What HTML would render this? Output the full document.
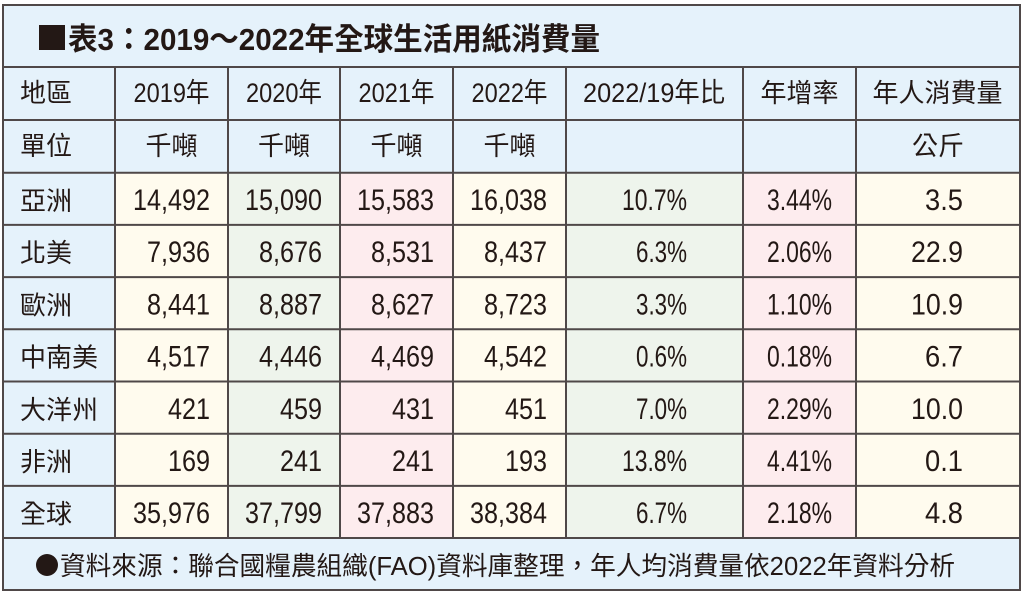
<!DOCTYPE html>
<html>
<head>
<meta charset="utf-8">
<style>
html,body{margin:0;padding:0;background:#fff;width:1024px;height:595px;overflow:hidden;}
svg{display:block;}
text{font-family:"Liberation Sans","Noto Sans CJK TC","Noto Sans CJK JP",sans-serif;fill:#231815;}
.cjk{font-family:"Noto Sans CJK TC","Noto Sans CJK JP",sans-serif;}
.c{font-size:26px;}
.h{font-size:27px;}
.n{font-size:30px;}
.t{font-size:31px;font-weight:bold;}
</style>
</head>
<body>
<svg width="1024" height="595" viewBox="0 0 1024 595" xmlns="http://www.w3.org/2000/svg">
<!-- backgrounds -->
<rect x="3" y="5" width="1017" height="585" fill="#e5f2fb"/>
<rect x="115" y="172.7" width="113" height="365.3" fill="#fffbee"/>
<rect x="228" y="172.7" width="112" height="365.3" fill="#eef4ec"/>
<rect x="340" y="172.7" width="113" height="365.3" fill="#fdecee"/>
<rect x="453" y="172.7" width="113" height="365.3" fill="#fffbee"/>
<rect x="566" y="172.7" width="177" height="365.3" fill="#eef4ec"/>
<rect x="743" y="172.7" width="113" height="365.3" fill="#fdecee"/>
<rect x="856" y="172.7" width="164" height="365.3" fill="#fffbee"/>

<!-- grid lines -->
<g stroke="#4f4848" stroke-width="2" fill="none">
<line x1="3" y1="67" x2="1020" y2="67"/>
<line x1="3" y1="120" x2="1020" y2="120"/>
<line x1="3" y1="172.7" x2="1020" y2="172.7"/>
<line x1="3" y1="224.9" x2="1020" y2="224.9"/>
<line x1="3" y1="277.1" x2="1020" y2="277.1"/>
<line x1="3" y1="329.3" x2="1020" y2="329.3"/>
<line x1="3" y1="381.5" x2="1020" y2="381.5"/>
<line x1="3" y1="433.7" x2="1020" y2="433.7"/>
<line x1="3" y1="485.9" x2="1020" y2="485.9"/>
<line x1="3" y1="538" x2="1020" y2="538"/>
<line x1="115" y1="67" x2="115" y2="538"/>
<line x1="228" y1="67" x2="228" y2="538"/>
<line x1="340" y1="67" x2="340" y2="538"/>
<line x1="453" y1="67" x2="453" y2="538"/>
<line x1="566" y1="67" x2="566" y2="538"/>
<line x1="743" y1="67" x2="743" y2="538"/>
<line x1="856" y1="67" x2="856" y2="538"/>
<rect x="3" y="5" width="1017" height="585"/>
</g>

<!-- title -->
<rect x="39" y="25" width="26" height="25" fill="#231815"/>
<text class="t" x="68" y="50" textLength="532" lengthAdjust="spacingAndGlyphs">表3：2019～2022年全球生活用紙消費量</text>

<!-- header row 1 -->
<text class="c" x="20" y="102">地區</text>
<text class="h" x="133.5" y="102" textLength="76" lengthAdjust="spacingAndGlyphs">2019年</text>
<text class="h" x="246" y="102" textLength="76" lengthAdjust="spacingAndGlyphs">2020年</text>
<text class="h" x="358.5" y="102" textLength="76" lengthAdjust="spacingAndGlyphs">2021年</text>
<text class="h" x="471.5" y="102" textLength="76" lengthAdjust="spacingAndGlyphs">2022年</text>
<text class="h" x="583" y="102" textLength="142" lengthAdjust="spacingAndGlyphs">2022/19年比</text>
<text class="c" x="799.5" y="102" text-anchor="middle">年增率</text>
<text class="c" x="937.5" y="102" text-anchor="middle">年人消費量</text>

<!-- header row 2 -->
<text class="c" x="20" y="155">單位</text>
<text class="c" x="171.5" y="155" text-anchor="middle">千噸</text>
<text class="c" x="284" y="155" text-anchor="middle">千噸</text>
<text class="c" x="396.5" y="155" text-anchor="middle">千噸</text>
<text class="c" x="509.5" y="155" text-anchor="middle">千噸</text>
<text class="c" x="938" y="155" text-anchor="middle">公斤</text>

<!-- row 亞洲 -->
<text class="c" x="20" y="210">亞洲</text>
<text class="n" x="133" y="210" textLength="77" lengthAdjust="spacingAndGlyphs">14,492</text>
<text class="n" x="245" y="210" textLength="77" lengthAdjust="spacingAndGlyphs">15,090</text>
<text class="n" x="357" y="210" textLength="77" lengthAdjust="spacingAndGlyphs">15,583</text>
<text class="n" x="470" y="210" textLength="77" lengthAdjust="spacingAndGlyphs">16,038</text>
<text class="n" x="622" y="210" textLength="65" lengthAdjust="spacingAndGlyphs">10.7%</text>
<text class="n" x="767" y="210" textLength="65" lengthAdjust="spacingAndGlyphs">3.44%</text>
<text class="n" x="925" y="210" textLength="38" lengthAdjust="spacingAndGlyphs">3.5</text>

<!-- row 北美 -->
<text class="c" x="20" y="262.2">北美</text>
<text class="n" x="147" y="262.2" textLength="63" lengthAdjust="spacingAndGlyphs">7,936</text>
<text class="n" x="259" y="262.2" textLength="63" lengthAdjust="spacingAndGlyphs">8,676</text>
<text class="n" x="371" y="262.2" textLength="63" lengthAdjust="spacingAndGlyphs">8,531</text>
<text class="n" x="484" y="262.2" textLength="63" lengthAdjust="spacingAndGlyphs">8,437</text>
<text class="n" x="636" y="262.2" textLength="51" lengthAdjust="spacingAndGlyphs">6.3%</text>
<text class="n" x="767" y="262.2" textLength="65" lengthAdjust="spacingAndGlyphs">2.06%</text>
<text class="n" x="911" y="262.2" textLength="52" lengthAdjust="spacingAndGlyphs">22.9</text>

<!-- row 歐洲 -->
<text class="c" x="20" y="314.4">歐洲</text>
<text class="n" x="147" y="314.4" textLength="63" lengthAdjust="spacingAndGlyphs">8,441</text>
<text class="n" x="259" y="314.4" textLength="63" lengthAdjust="spacingAndGlyphs">8,887</text>
<text class="n" x="371" y="314.4" textLength="63" lengthAdjust="spacingAndGlyphs">8,627</text>
<text class="n" x="484" y="314.4" textLength="63" lengthAdjust="spacingAndGlyphs">8,723</text>
<text class="n" x="636" y="314.4" textLength="51" lengthAdjust="spacingAndGlyphs">3.3%</text>
<text class="n" x="767" y="314.4" textLength="65" lengthAdjust="spacingAndGlyphs">1.10%</text>
<text class="n" x="911" y="314.4" textLength="52" lengthAdjust="spacingAndGlyphs">10.9</text>

<!-- row 中南美 -->
<text class="c" x="20" y="366.6">中南美</text>
<text class="n" x="147" y="366.6" textLength="63" lengthAdjust="spacingAndGlyphs">4,517</text>
<text class="n" x="259" y="366.6" textLength="63" lengthAdjust="spacingAndGlyphs">4,446</text>
<text class="n" x="371" y="366.6" textLength="63" lengthAdjust="spacingAndGlyphs">4,469</text>
<text class="n" x="484" y="366.6" textLength="63" lengthAdjust="spacingAndGlyphs">4,542</text>
<text class="n" x="636" y="366.6" textLength="51" lengthAdjust="spacingAndGlyphs">0.6%</text>
<text class="n" x="767" y="366.6" textLength="65" lengthAdjust="spacingAndGlyphs">0.18%</text>
<text class="n" x="925" y="366.6" textLength="38" lengthAdjust="spacingAndGlyphs">6.7</text>

<!-- row 大洋州 -->
<text class="c" x="20" y="418.8">大洋州</text>
<text class="n" x="168" y="418.8" textLength="42" lengthAdjust="spacingAndGlyphs">421</text>
<text class="n" x="280" y="418.8" textLength="42" lengthAdjust="spacingAndGlyphs">459</text>
<text class="n" x="392" y="418.8" textLength="42" lengthAdjust="spacingAndGlyphs">431</text>
<text class="n" x="505" y="418.8" textLength="42" lengthAdjust="spacingAndGlyphs">451</text>
<text class="n" x="636" y="418.8" textLength="51" lengthAdjust="spacingAndGlyphs">7.0%</text>
<text class="n" x="767" y="418.8" textLength="65" lengthAdjust="spacingAndGlyphs">2.29%</text>
<text class="n" x="911" y="418.8" textLength="52" lengthAdjust="spacingAndGlyphs">10.0</text>

<!-- row 非洲 -->
<text class="c" x="20" y="471">非洲</text>
<text class="n" x="168" y="471" textLength="42" lengthAdjust="spacingAndGlyphs">169</text>
<text class="n" x="280" y="471" textLength="42" lengthAdjust="spacingAndGlyphs">241</text>
<text class="n" x="392" y="471" textLength="42" lengthAdjust="spacingAndGlyphs">241</text>
<text class="n" x="505" y="471" textLength="42" lengthAdjust="spacingAndGlyphs">193</text>
<text class="n" x="622" y="471" textLength="65" lengthAdjust="spacingAndGlyphs">13.8%</text>
<text class="n" x="767" y="471" textLength="65" lengthAdjust="spacingAndGlyphs">4.41%</text>
<text class="n" x="925" y="471" textLength="38" lengthAdjust="spacingAndGlyphs">0.1</text>

<!-- row 全球 -->
<text class="c" x="20" y="523.2">全球</text>
<text class="n" x="133" y="523.2" textLength="77" lengthAdjust="spacingAndGlyphs">35,976</text>
<text class="n" x="245" y="523.2" textLength="77" lengthAdjust="spacingAndGlyphs">37,799</text>
<text class="n" x="357" y="523.2" textLength="77" lengthAdjust="spacingAndGlyphs">37,883</text>
<text class="n" x="470" y="523.2" textLength="77" lengthAdjust="spacingAndGlyphs">38,384</text>
<text class="n" x="636" y="523.2" textLength="51" lengthAdjust="spacingAndGlyphs">6.7%</text>
<text class="n" x="767" y="523.2" textLength="65" lengthAdjust="spacingAndGlyphs">2.18%</text>
<text class="n" x="925" y="523.2" textLength="38" lengthAdjust="spacingAndGlyphs">4.8</text>

<!-- footer -->
<circle cx="47" cy="565" r="11" fill="#231815"/>
<text class="c" x="60" y="575" textLength="895" lengthAdjust="spacingAndGlyphs">資料來源：聯合國糧農組織(FAO)資料庫整理，年人均消費量依2022年資料分析</text>
</svg>
</body>
</html>
